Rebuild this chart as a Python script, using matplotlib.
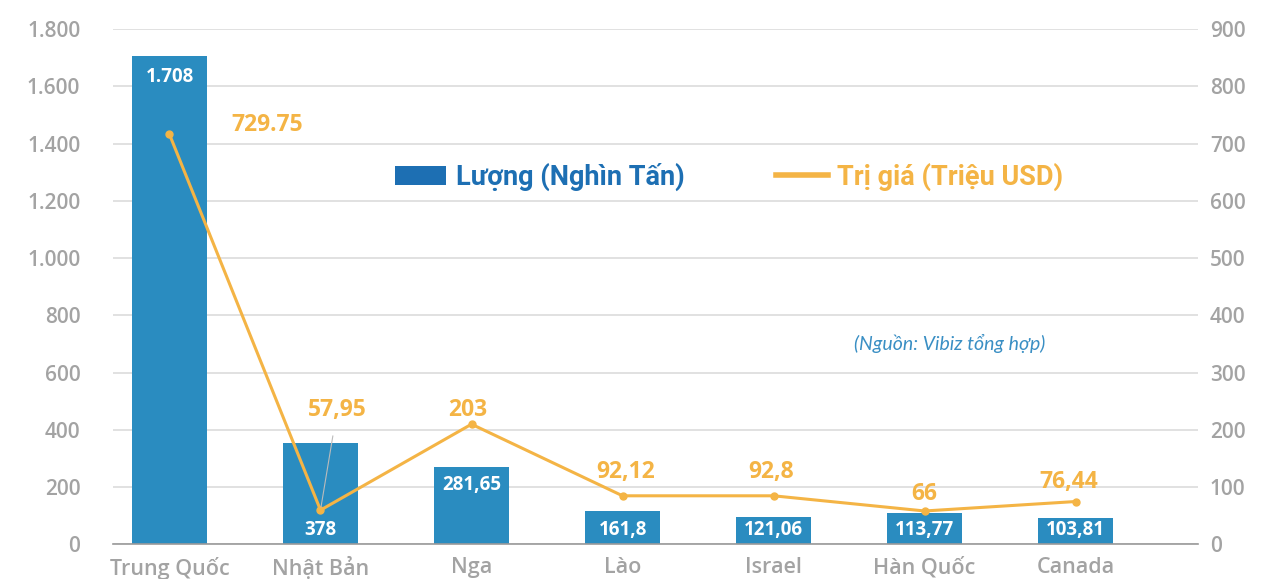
import matplotlib
matplotlib.use("Agg")
import matplotlib.pyplot as plt
from matplotlib.patches import Patch
from matplotlib.lines import Line2D

plt.rcParams['font.family'] = ['Open Sans', 'DejaVu Sans']

categories = ["Trung Quốc", "Nhật Bản", "Nga", "Lào", "Israel", "Hàn Quốc", "Canada"]
# bar heights as drawn (Nghìn Tấn) and their printed labels
volume = [1706, 356, 270, 118, 95, 109, 92]
volume_labels = ["1.708", "378", "281,65", "161,8", "121,06", "113,77", "103,81"]
# line values as drawn (Triệu USD) and their printed labels
value = [716, 60, 210, 85, 85, 58.5, 75]
value_labels = ["729.75", "57,95", "203", "92,12", "92,8", "66", "76,44"]

left_ticks = [0, 200, 400, 600, 800, 1000, 1200, 1400, 1600, 1800]
left_tick_labels = ["0", "200", "400", "600", "800", "1.000", "1.200", "1.400", "1.600", "1.800"]
right_ticks = [0, 100, 200, 300, 400, 500, 600, 700, 800, 900]

BAR = "#2a8cc0"
LEG_BLUE = "#1d6fb3"
ORANGE = "#f4b445"
GRAY = "#a3a3a3"

fig = plt.figure(figsize=(12.61, 5.79), dpi=100)
ax = fig.add_axes([0.0896, 0.0596, 0.8604, 0.8904])
ax2 = ax.twinx()

x = list(range(len(categories)))
ax.bar(x, volume, width=0.5, color=BAR, zorder=2)
ax.set_ylim(0, 1800)
ax.set_xlim(-0.374, 6.81)
ax.set_yticks(left_ticks)
ax.set_yticklabels(left_tick_labels)
ax.grid(axis='y', color='#dcdcdc', linewidth=1.2, zorder=0)
ax.set_axisbelow(True)
for s in ['top', 'right', 'left']:
    ax.spines[s].set_visible(False)
    ax2.spines[s].set_visible(False)
ax.spines['bottom'].set_color('#9a9a9a')
ax.spines['bottom'].set_linewidth(1.2)
ax2.spines['bottom'].set_visible(False)
ax.tick_params(axis='y', length=0, pad=23.5, labelsize=15, labelcolor=GRAY)
ax.tick_params(axis='x', length=0, pad=9, labelsize=15.5, labelcolor=GRAY)
ax.set_xticks(x)
ax.set_xticklabels(categories, fontweight='semibold')
for lab in ax.get_yticklabels():
    lab.set_fontweight('semibold')

ax2.plot(x, value, color=ORANGE, linewidth=2.2, marker='o', markersize=5, zorder=5)
ax2.set_ylim(0, 900)
ax2.set_yticks(right_ticks)
ax2.tick_params(axis='y', length=0, pad=8.5, labelsize=15, labelcolor=GRAY)
for lab in ax2.get_yticklabels():
    lab.set_fontweight('semibold')
ax.set_zorder(1)
ax2.set_zorder(2)
ax2.patch.set_visible(False)

# bar labels (pixel offsets relative to the bar)
for i, (h, lab) in enumerate(zip(volume, volume_labels)):
    if i == 0:
        ax.annotate(lab, (i, h), xytext=(0, -15), textcoords='offset points',
                    ha='center', va='center', color='white', fontsize=13.5, fontweight='bold', zorder=6)
    elif i == 2:
        ax.annotate(lab, (i, h), xytext=(0, -13), textcoords='offset points',
                    ha='center', va='center', color='white', fontsize=13.5, fontweight='bold', zorder=6)
    else:
        ax.annotate(lab, (i, 0), xytext=(0, 10.5), textcoords='offset points',
                    ha='center', va='center', color='white', fontsize=13.5, fontweight='bold', zorder=6)

# line value labels
offsets = [(70, 7), (12, 72), (-3, 10), (2, 17), (-2, 17), (0, 12), (-5, 14)]
for i, (v, lab) in enumerate(zip(value, value_labels)):
    dx, dy = offsets[i]
    if i == 1:
        ax2.annotate(lab, (i, v), xytext=(dx, dy), textcoords='offset points',
                     ha='center', va='center', color=ORANGE, fontsize=16.5, fontweight='bold',
                     arrowprops=dict(arrowstyle='-', color='#bbbbbb', lw=0.8, shrinkA=8, shrinkB=2),
                     zorder=7)
    else:
        ax2.annotate(lab, (i, v), xytext=(dx, dy), textcoords='offset points',
                     ha='center', va='center', color=ORANGE, fontsize=16.5, fontweight='bold', zorder=7)

# legend
handles = [Patch(facecolor=LEG_BLUE, edgecolor='none'),
           Line2D([0], [0], color=ORANGE, linewidth=4)]
leg = ax2.legend(handles, ["Lượng (Nghìn Tấn)", "Trị giá (Triệu USD)"], ncol=2,
                 loc='center', bbox_to_anchor=(729 / 1261, 1 - 177 / 579), bbox_transform=fig.transFigure,
                 frameon=False, fontsize=19.5, handlelength=1.9, handleheight=0.7,
                 columnspacing=3.4, handletextpad=0.35)
for t, c in zip(leg.get_texts(), [LEG_BLUE, ORANGE]):
    t.set_color(c)
    t.set_fontweight('bold')
    t.set_family(['Roboto', 'DejaVu Sans'])

fig.text(950 / 1261, 1 - 343 / 579, "(Nguồn: Vibiz tổng hợp)", ha='center', va='center',
         color='#3a8fc4', fontsize=14, fontstyle='italic', family=['Lato', 'DejaVu Sans'])

fig.savefig("out.png", dpi=100)
